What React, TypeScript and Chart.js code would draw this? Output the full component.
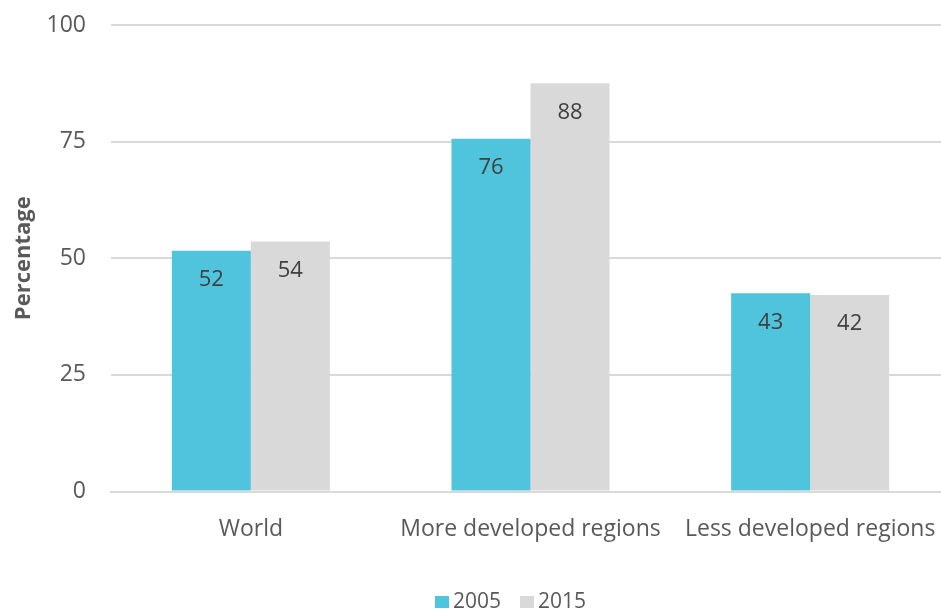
import React, { useEffect, useRef } from "react";
import { Chart, registerables } from "chart.js";

Chart.register(...registerables);

const categories = ["World", "More developed regions", "Less developed regions"];
const seriesNames = ["2005", "2015"];
const values2005 = [51.6, 75.6, 42.5];
const values2015 = [53.6, 87.5, 42.1];
const yTicks = [0, 25, 50, 75, 100];
const seriesColors = ["#50C4DC", "#D9D9D9"];

const FONT = "'Open Sans', 'Noto Sans', sans-serif";

const dataLabelPlugin = {
  id: "dataLabels",
  afterDatasetsDraw(chart: any) {
    const ctx = chart.ctx;
    ctx.save();
    ctx.font = `22px ${FONT}`;
    ctx.fillStyle = "#404040";
    ctx.textAlign = "center";
    ctx.textBaseline = "middle";
    chart.data.datasets.forEach((ds: any, di: number) => {
      const meta = chart.getDatasetMeta(di);
      meta.data.forEach((el: any, i: number) => {
        const v = ds.data[i];
        ctx.fillText(String(Math.round(v)), el.x, el.y + 29);
      });
    });
    ctx.restore();
  },
};

const legendPlugin = {
  id: "customLegend",
  afterDraw(chart: any) {
    const ctx = chart.ctx;
    ctx.save();
    ctx.font = `21px ${FONT}`;
    ctx.textBaseline = "middle";
    ctx.textAlign = "left";
    const cy = 602;
    let x = 435;
    chart.data.datasets.forEach((ds: any) => {
      ctx.fillStyle = ds.backgroundColor;
      ctx.fillRect(x, cy - 6, 14, 12);
      ctx.fillStyle = "#595959";
      ctx.fillText(ds.label, x + 18, cy);
      const w = ctx.measureText(ds.label).width;
      x += 18 + w + 19;
    });
    ctx.restore();
  },
};

export default function App() {
  const ref = useRef<HTMLCanvasElement | null>(null);
  useEffect(() => {
    if (!ref.current) return;
    const barOpts = { categoryPercentage: 0.565, barPercentage: 1, borderWidth: 0 };
    const chart = new Chart(ref.current, {
      type: "bar",
      data: {
        labels: categories,
        datasets: [
          { label: seriesNames[0], data: values2005, backgroundColor: seriesColors[0], ...barOpts },
          { label: seriesNames[1], data: values2015, backgroundColor: seriesColors[1], ...barOpts },
        ],
      },
      plugins: [dataLabelPlugin, legendPlugin],
      options: {
        responsive: false,
        maintainAspectRatio: false,
        animation: false,
        devicePixelRatio: 1,
        layout: { padding: { top: 0, left: 0, right: 0, bottom: 0 } },
        plugins: {
          legend: { display: false },
          tooltip: { enabled: false },
        },
        scales: {
          x: {
            grid: { display: false, drawTicks: false },
            border: { display: true, color: "#D9D9D9", width: 2 },
            ticks: {
              color: "#595959",
              font: { family: FONT, size: 23 },
              padding: 24,
              maxRotation: 0,
              autoSkip: false,
            },
            afterFit: (scale: any) => {
              scale.height = 117.5;
              scale.paddingLeft = 0;
              scale.paddingRight = 0;
            },
          } as any,
          y: {
            min: 0,
            max: 100,
            grid: { color: "#D9D9D9", lineWidth: 2, drawTicks: false },
            border: { display: false },
            ticks: {
              color: "#595959",
              font: { family: FONT, size: 23 },
              padding: 25,
              stepSize: 25,
            },
            afterBuildTicks: (scale: any) => {
              scale.ticks = yTicks.map((v) => ({ value: v }));
            },
            title: {
              display: true,
              text: "Percentage",
              color: "#595959",
              font: { family: FONT, size: 22, weight: "bold" },
              padding: { top: 11, bottom: 0 },
            },
            afterFit: (scale: any) => {
              scale.width = 111;
              scale.paddingTop = 25;
              scale.paddingBottom = 0;
            },
          },
        },
      },
    });
    return () => chart.destroy();
  }, []);
  return (
    <div style={{ position: "fixed", left: 0, top: 0, width: 941, height: 609, overflow: "hidden", background: "#fff" }}>
      <div style={{ width: 950, height: 609 }}>
        <canvas ref={ref} width={950} height={609} style={{ display: "block", width: 950, height: 609 }} />
      </div>
    </div>
  );
}
